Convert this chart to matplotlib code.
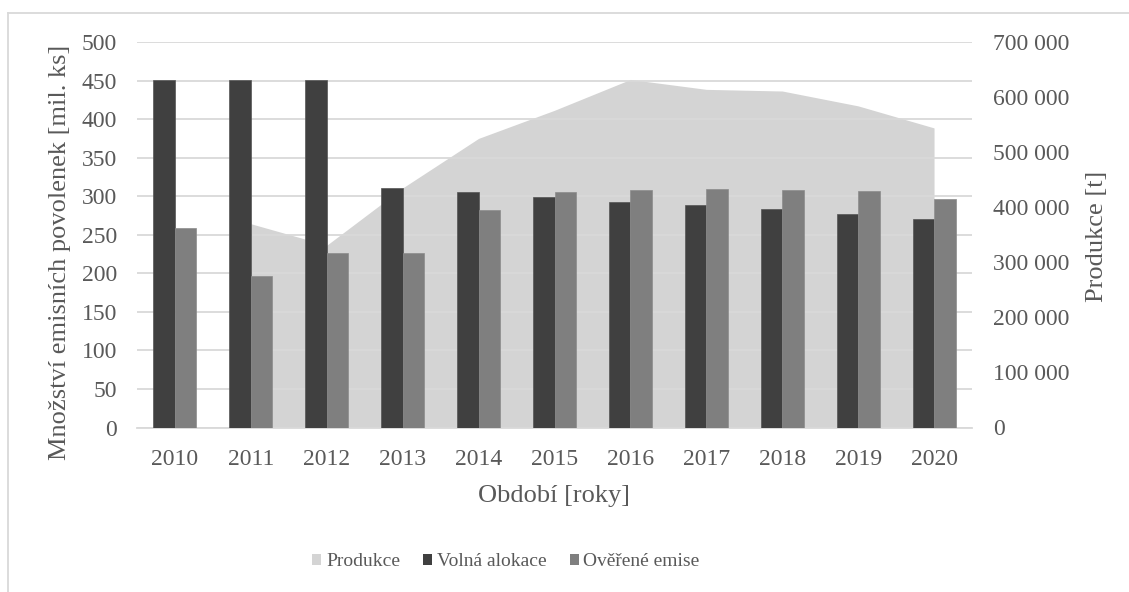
import numpy as np
import matplotlib
matplotlib.use("Agg")
import matplotlib.pyplot as plt
from matplotlib.patches import Patch
from matplotlib.lines import Line2D
from matplotlib.ticker import FuncFormatter, MultipleLocator

# Data
years = ["2010", "2011", "2012", "2013", "2014", "2015", "2016", "2017", "2018", "2019", "2020"]
volna_alokace = [451, 451, 451, 310, 305, 299, 293, 288, 283, 277, 271]
overene_emise = [259, 196, 226, 226, 282, 305, 308, 309, 308, 307, 296]
produkce = [np.nan, 370000, 331000, 435000, 525000, 576000, 632000, 614000, 611000, 584000, 544000]

plt.rcParams["font.family"] = ["Liberation Serif", "DejaVu Serif"]
text_color = "#595959"
tick_fs = 17
title_fs = 19
legend_fs = 14

W, H = 1129, 592
fig = plt.figure(figsize=(W / 100, H / 100), dpi=100)
ax = fig.add_axes([137 / W, 1 - 427.5 / H, (972 - 137) / W, (427.5 - 42) / H])
ax2 = ax.twinx()

# Area (production) on the secondary axis, kept behind the bars
x = np.arange(len(years))
ax2.fill_between(x, np.array(produkce, dtype=float), 0, color="#d4d4d4", linewidth=0, zorder=1)
ax2.set_ylim(0, 700000)
ax2.yaxis.set_major_locator(MultipleLocator(100000))
ax2.yaxis.set_major_formatter(FuncFormatter(lambda v, p: f"{int(v):,}".replace(",", " ")))

ax.set_zorder(ax2.get_zorder() + 1)
ax.patch.set_visible(False)

w = 0.283
ax.bar(x - w / 2, volna_alokace, width=w, color="#404040", edgecolor="#555555", linewidth=0.5, zorder=3)
ax.bar(x + w / 2, overene_emise, width=w, color="#7f7f7f", edgecolor="#8c8c8c", linewidth=0.5, zorder=3)

ax.set_xlim(-0.5, len(years) - 0.5)
ax.set_ylim(0, 500)
ax.yaxis.set_major_locator(MultipleLocator(50))
ax.set_xticks(x)
ax.set_xticklabels(years)
ax.set_axisbelow(True)
ax.grid(axis="y", color="#d9d9d9", linewidth=1.3, zorder=0)

for a in (ax, ax2):
    for s in a.spines.values():
        s.set_visible(False)
    a.tick_params(length=0, labelsize=tick_fs, colors=text_color)
ax.tick_params(axis="y", pad=14.4)
ax.tick_params(axis="x", pad=15.5)
ax2.tick_params(axis="y", pad=15)
ax.spines["bottom"].set_visible(True)
ax.spines["bottom"].set_color("#d9d9d9")
ax.spines["bottom"].set_linewidth(1.3)

# Axis titles
fig.text(60 / W, 1 - 252 / H, "Množství emisních povolenek [mil. ks]", rotation=90,
         ha="center", va="center", fontsize=title_fs, color=text_color)
fig.text(1097 / W, 1 - 236 / H, "Produkce [t]", rotation=90,
         ha="center", va="center", fontsize=title_fs, color=text_color)
fig.text(554.5 / W, 1 - 502 / H, "Období [roky]", ha="center", va="baseline",
         fontsize=title_fs, color=text_color)

handles = [
    Patch(facecolor="#d4d4d4", label="Produkce"),
    Patch(facecolor="#404040", label="Volná alokace"),
    Patch(facecolor="#7f7f7f", label="Ověřené emise"),
]
fig.legend(handles=handles, loc="center", bbox_to_anchor=(506 / W, 1 - 562 / H), ncol=3,
           frameon=False, fontsize=legend_fs, handlelength=0.45, handleheight=0.45,
           handletextpad=0.25, columnspacing=1.2, labelcolor=text_color)

# Outer frame lines
fig.add_artist(Line2D([8 / W, 8 / W], [0, 1 - 13 / H], transform=fig.transFigure,
                      color="#d9d9d9", linewidth=1.3))
fig.add_artist(Line2D([8 / W, 1], [1 - 13 / H, 1 - 13 / H], transform=fig.transFigure,
                      color="#d9d9d9", linewidth=1.3))

fig.savefig("out.png", dpi=100, facecolor="white")
